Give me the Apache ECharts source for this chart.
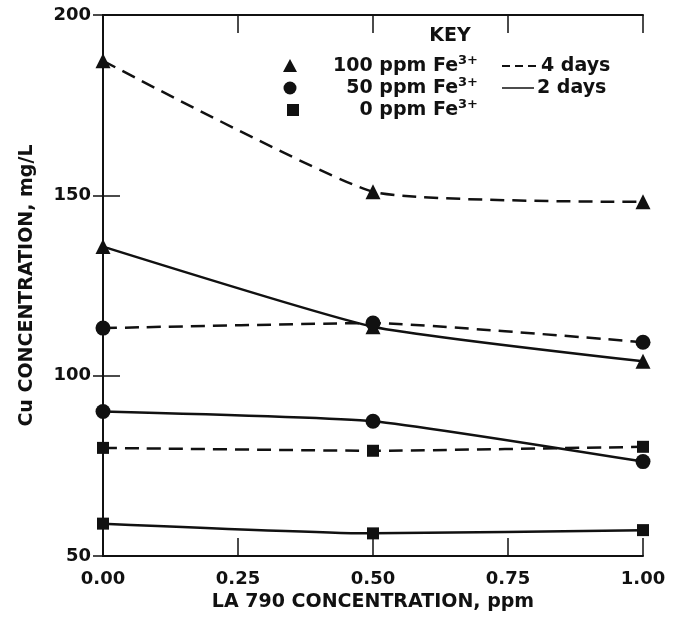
<!DOCTYPE html>
<html>
<head>
<meta charset="utf-8">
<script src="https://cdn.jsdelivr.net/npm/echarts@6/dist/echarts.min.js"></script>
<style>
  html, body { margin: 0; padding: 0; background: #fff; }
  #chart { width: 680px; height: 617px; }
</style>
</head>
<body>
<div id="chart"></div>
<script>
// LA 790 concentration, ppm
const laConc = [0, 0.5, 1.0];
// Cu concentration, mg/L
const fe100Days4 = [187.3, 151, 148.2];
const fe100Days2 = [135.8, 113.6, 104];
const fe50Days4 = [113.2, 114.6, 109.3];
const fe50Days2 = [90.1, 87.4, 76.2];
const fe0Days4 = [80, 79.2, 80.3];
const fe0Days2 = [59, 56.3, 57.2];
const xTicks = [0, 0.25, 0.5, 0.75, 1.0];
const yTicks = [50, 100, 150, 200];
const feLevels = ['100', '50', '0'];

const FONT = 'DejaVu Sans';
const INK = '#111';

const chart = echarts.init(document.getElementById('chart'));

// 生成系列
function makeSeries(name, values, symbol, size, dashed) {
  return {
    name: name,
    type: 'line',
    data: laConc.map((x, i) => [x, values[i]]),
    symbol: symbol,
    symbolSize: size,
    smooth: 0.15,
    clip: false,
    itemStyle: { color: INK },
    lineStyle: { color: INK, width: 2.5, type: dashed ? [14, 8] : 'solid' },
    z: 3
  };
}

function axisBase(tickLen) {
  return {
    axisLine: { lineStyle: { color: INK, width: 2 } },
    axisTick: { inside: true, length: tickLen, lineStyle: { color: INK, width: 1.5 } },
    splitLine: { show: false }
  };
}

const labelFont = { fontFamily: FONT, fontWeight: 'bold', fontSize: 18, color: INK };
const nameFont = { fontFamily: FONT, fontWeight: 'bold', fontSize: 19, color: INK };

const option = {
  animation: false,
  backgroundColor: '#fff',
  grid: { left: 103, right: 37, top: 15, bottom: 60 },
  xAxis: [
    Object.assign({
      type: 'value', min: 0, max: 1, interval: 0.25, position: 'bottom',
      name: 'LA 790 CONCENTRATION, ppm', nameLocation: 'middle', nameGap: 36,
      nameTextStyle: nameFont,
      axisLabel: Object.assign({
        margin: 14,
        formatter: v => xTicks.includes(v) ? v.toFixed(2) : ''
      }, labelFont)
    }, axisBase(18)),
    Object.assign({
      type: 'value', min: 0, max: 1, interval: 0.25, position: 'top',
      axisLabel: { show: false }
    }, axisBase(18))
  ],
  yAxis: [
    Object.assign({
      type: 'value', min: 50, max: 200, interval: 50, position: 'left',
      name: 'Cu CONCENTRATION, mg/L', nameLocation: 'middle', nameGap: 66, nameRotate: 90,
      nameTextStyle: nameFont,
      axisLabel: Object.assign({
        margin: 12,
        formatter: v => yTicks.includes(v) ? String(v) : ''
      }, labelFont)
    }, axisBase(17)),
    Object.assign({
      type: 'value', min: 50, max: 200, interval: 50, position: 'right',
      axisLabel: { show: false }
    }, axisBase(10))
  ],
  series: [
    makeSeries('100 ppm 4 days', fe100Days4, 'triangle', 15, true),
    makeSeries('100 ppm 2 days', fe100Days2, 'triangle', 15, false),
    makeSeries('50 ppm 4 days', fe50Days4, 'circle', 15, true),
    makeSeries('50 ppm 2 days', fe50Days2, 'circle', 15, false),
    makeSeries('0 ppm 4 days', fe0Days4, 'rect', 12, true),
    makeSeries('0 ppm 2 days', fe0Days2, 'rect', 12, false)
  ],
  graphic: [
    { type: 'text', x: 450, y: 36, style: { text: 'KEY', align: 'center', verticalAlign: 'middle', font: 'bold 19px ' + FONT, fill: INK } },
    // 浓度图例
    { type: 'group', children: [
      { type: 'polygon', shape: { points: [[290, 59], [297, 72], [283, 72]] }, style: { fill: INK } },
      { type: 'circle', shape: { cx: 290, cy: 88, r: 6.5 }, style: { fill: INK } },
      { type: 'rect', shape: { x: 287, y: 104, width: 12, height: 12 }, style: { fill: INK } }
    ] },
    ...feLevels.map((c, i) => ({
      type: 'text', x: 478, y: 66 + i * 22,
      style: {
        text: c + ' ppm Fe{sup|3+}', align: 'right', verticalAlign: 'middle',
        font: 'bold 19px ' + FONT, fill: INK,
        rich: { sup: { fontSize: 13, fontWeight: 'bold', fontFamily: FONT, fill: INK, padding: [0, 0, 11, 0] } }
      }
    })),
    // 时间图例
    { type: 'line', shape: { x1: 502, y1: 66, x2: 538, y2: 66 }, style: { stroke: INK, lineWidth: 2, lineDash: [8, 5] } },
    { type: 'line', shape: { x1: 502, y1: 88, x2: 534, y2: 88 }, style: { stroke: INK, lineWidth: 1.5 } },
    { type: 'text', x: 541, y: 66, style: { text: '4 days', verticalAlign: 'middle', font: 'bold 19px ' + FONT, fill: INK } },
    { type: 'text', x: 537, y: 88, style: { text: '2 days', verticalAlign: 'middle', font: 'bold 19px ' + FONT, fill: INK } }
  ]
};

chart.setOption(option);
window.addEventListener('resize', () => chart.resize());
</script>
</body>
</html>
